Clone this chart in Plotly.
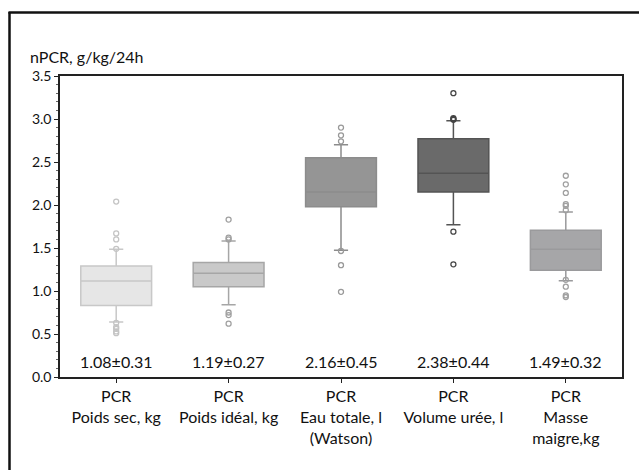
import plotly.graph_objects as go

categories = ["PCR<br>Poids sec, kg", "PCR<br>Poids idéal, kg", "PCR<br>Eau totale, l<br>(Watson)",
              "PCR<br>Volume urée, l", "PCR<br>Masse<br>maigre,kg"]
q1 = [0.83, 1.05, 1.98, 2.15, 1.24]
median = [1.115, 1.205, 2.15, 2.37, 1.485]
q3 = [1.29, 1.33, 2.55, 2.77, 1.705]
lower_whisker = [0.64, 0.84, 1.475, 1.77, 1.12]
upper_whisker = [1.485, 1.58, 2.70, 2.98, 1.92]
outliers = [
    [2.04, 1.67, 1.60, 1.49, 0.63, 0.58, 0.56, 0.53, 0.51],
    [1.83, 1.62, 1.60, 0.75, 0.72, 0.62],
    [2.90, 2.81, 2.74, 1.465, 1.30, 0.99],
    [3.30, 3.01, 3.00, 2.99, 1.69, 1.31],
    [2.34, 2.24, 2.14, 2.01, 1.99, 1.94, 1.13, 1.05, 0.95, 0.93],
]
stats_labels = ["1.08±0.31", "1.19±0.27", "2.16±0.45", "2.38±0.44", "1.49±0.32"]
y_ticks = [0.0, 0.5, 1.0, 1.5, 2.0, 2.5, 3.0, 3.5]
y_title = "nPCR, g/kg/24h"

fills = ["#e6e6e6", "#c9c9c9", "#959595", "#6a6a6a", "#a6a6a8"]
lines = ["#c8c8c8", "#a6a6a6", "#8c8c8c", "#545454", "#9a9a9c"]
whisk = ["#c4c4c4", "#a0a0a0", "#999999", "#444444", "#a0a0a0"]

FONT = "Lato"
fig = go.Figure()
for i, cat in enumerate(categories):
    fig.add_trace(go.Box(
        x=[cat], q1=[q1[i]], median=[median[i]], q3=[q3[i]],
        lowerfence=[lower_whisker[i]], upperfence=[upper_whisker[i]],
        fillcolor=fills[i], line=dict(color=lines[i], width=1.5),
        width=0.63, whiskerwidth=0.2, boxpoints=False, showlegend=False,
        hoverinfo="skip",
    ))
    fig.add_trace(go.Scatter(
        x=[cat] * len(outliers[i]), y=outliers[i], mode="markers",
        marker=dict(symbol="circle-open", size=5, color=whisk[i], line=dict(width=1.3, color=whisk[i])),
        showlegend=False, hoverinfo="skip",
    ))
    fig.add_annotation(x=cat, y=0.0, yshift=16, text=stats_labels[i], showarrow=False,
                       font=dict(family=FONT, size=16, color="#111"), xanchor="center", yanchor="middle")

fig.add_annotation(xref="paper", yref="paper", x=(28 - 60) / 562, y=(377 - 57) / 301,
                   text=y_title, showarrow=False, xanchor="left", yanchor="middle",
                   font=dict(family=FONT, size=16, color="#111"))

# outer frame (left and top borders)
fig.add_shape(type="line", xref="paper", yref="paper", x0=(9.5 - 60) / 562, x1=(9.5 - 60) / 562,
              y0=(377 - 480) / 301, y1=(377 - 12) / 301, line=dict(color="#111", width=2.5))
fig.add_shape(type="line", xref="paper", yref="paper", x0=(8.5 - 60) / 562, x1=(660 - 60) / 562,
              y0=(377 - 12.5) / 301, y1=(377 - 12.5) / 301, line=dict(color="#111", width=2.5))

fig.update_layout(
    width=639, height=470,
    margin=dict(l=60, r=17, t=76, b=93),
    paper_bgcolor="white", plot_bgcolor="white",
    boxmode="overlay",
    font=dict(family=FONT, color="#111"),
    xaxis=dict(type="category", categoryorder="array", categoryarray=categories,
               range=[-0.5, 4.5], showline=True, linecolor="#222", linewidth=1.5, mirror=True,
               ticks="outside", ticklen=4, tickcolor="#222", showgrid=False, zeroline=False,
               tickfont=dict(family=FONT, size=16, color="#111")),
    yaxis=dict(range=[0, 3.5], tickvals=y_ticks, ticktext=[f"{v:.1f}" for v in y_ticks],
               showline=True, linecolor="#222", linewidth=1.5, mirror=True,
               ticks="outside", ticklen=4, tickcolor="#222", showgrid=False, zeroline=False,
               minor=dict(ticks="outside", ticklen=2, dtick=0.1, tickcolor="#666", showgrid=False),
               tickfont=dict(family=FONT, size=14, color="#111")),
)

fig.write_html("out.html")
